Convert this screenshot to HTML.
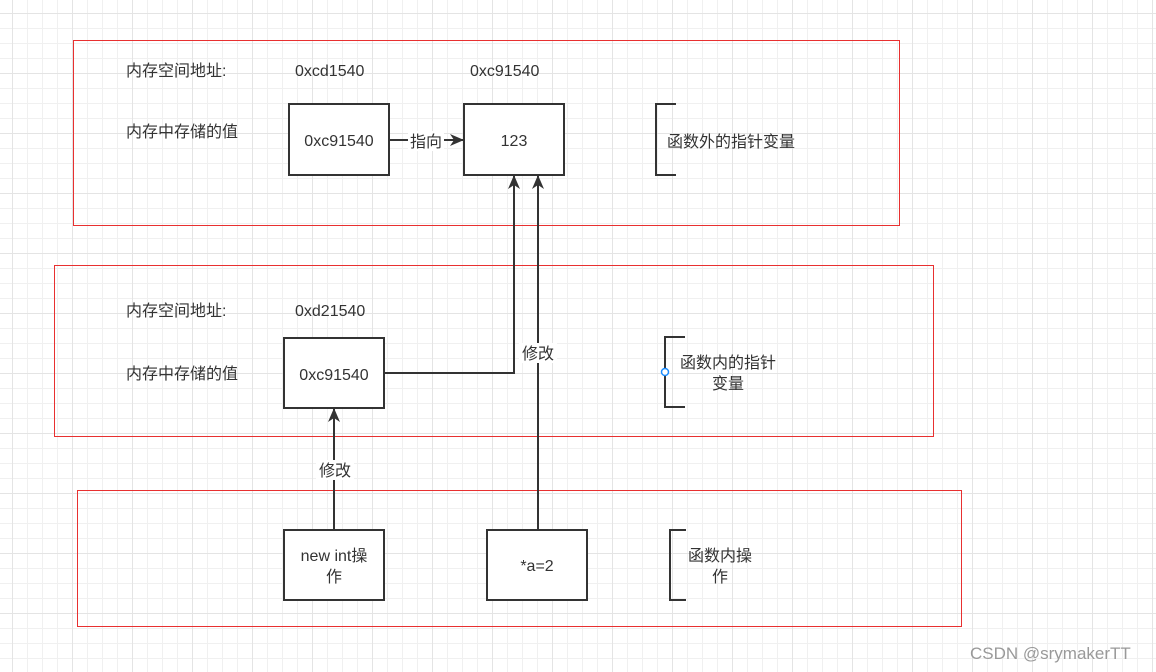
<!DOCTYPE html>
<html><head><meta charset="utf-8"><style>
body{margin:0;width:1156px;height:672px;overflow:hidden;background-color:#fff;
background-image:linear-gradient(#e4e4e4 1px,transparent 1px),linear-gradient(90deg,#e4e4e4 1px,transparent 1px),linear-gradient(#f0f0f0 1px,transparent 1px),linear-gradient(90deg,#f0f0f0 1px,transparent 1px);
background-size:60px 60px,60px 60px,15px 15px,15px 15px;background-position:12px 13px,12px 13px,12px 13px,12px 13px;
font-family:"Liberation Sans","Noto Sans CJK SC",sans-serif;}
</style></head><body>
<svg width="1156" height="672" style="position:absolute;left:0;top:0" font-family="Liberation Sans, Noto Sans CJK SC, sans-serif" font-size="16" fill="#333">
<defs><marker id="a" markerWidth="14" markerHeight="12" refX="13" refY="6" orient="auto" markerUnits="userSpaceOnUse"><path d="M0,0 L14,6 L0,12 L4,6z" fill="#333"/></marker></defs>
<g fill="none" stroke="#e83030" stroke-width="1">
<rect x="73.5" y="40.5" width="826" height="185"/>
<rect x="54.5" y="265.5" width="879" height="171"/>
<rect x="77.5" y="490.5" width="884" height="136"/>
</g>
<g fill="#fff" stroke="#333" stroke-width="2">
<rect x="289" y="104" width="100" height="71"/>
<rect x="464" y="104" width="100" height="71"/>
<rect x="284" y="338" width="100" height="70"/>
<rect x="284" y="530" width="100" height="70"/>
<rect x="487" y="530" width="100" height="70"/>
</g>
<g fill="none" stroke="#333" stroke-width="2">
<path d="M389,140 H463" marker-end="url(#a)"/>
<path d="M384,373 H514 V176" marker-end="url(#a)"/>
<path d="M538,530 V176" marker-end="url(#a)"/>
<path d="M334,530 V409" marker-end="url(#a)"/>
<path d="M676,104 H656 V175 H676"/>
<path d="M685,337 H665 V407 H685"/>
<path d="M686,530 H670 V600 H686"/>
</g>
<circle cx="665" cy="372" r="3.5" fill="#fff" stroke="#1a8cff" stroke-width="1.5"/>
<rect x="408" y="131" width="36" height="20" fill="#fff"/>
<rect x="519" y="343" width="38" height="20" fill="#fff"/>
<rect x="316" y="460" width="38" height="20" fill="#fff"/>
<g text-anchor="middle">
<text x="426" y="147">指向</text>
<text x="538" y="359">修改</text>
<text x="335" y="476">修改</text>
<text x="339" y="146">0xc91540</text>
<text x="514" y="146">123</text>
<text x="334" y="380">0xc91540</text>
<text x="334" y="561">new int操</text>
<text x="334" y="582">作</text>
<text x="537" y="571">*a=2</text>
<text x="728" y="368">函数内的指针</text>
<text x="728" y="389">变量</text>
<text x="720" y="561">函数内操</text>
<text x="720" y="582">作</text>
</g>
<text x="126" y="76">内存空间地址:</text>
<text x="295" y="76">0xcd1540</text>
<text x="470" y="76">0xc91540</text>
<text x="126" y="137">内存中存储的值</text>
<text x="667" y="147">函数外的指针变量</text>
<text x="126" y="316">内存空间地址:</text>
<text x="295" y="316">0xd21540</text>
<text x="126" y="379">内存中存储的值</text>
<text x="970" y="659" fill="#999" font-size="17">CSDN @srymakerTT</text>
</svg>
</body></html>
